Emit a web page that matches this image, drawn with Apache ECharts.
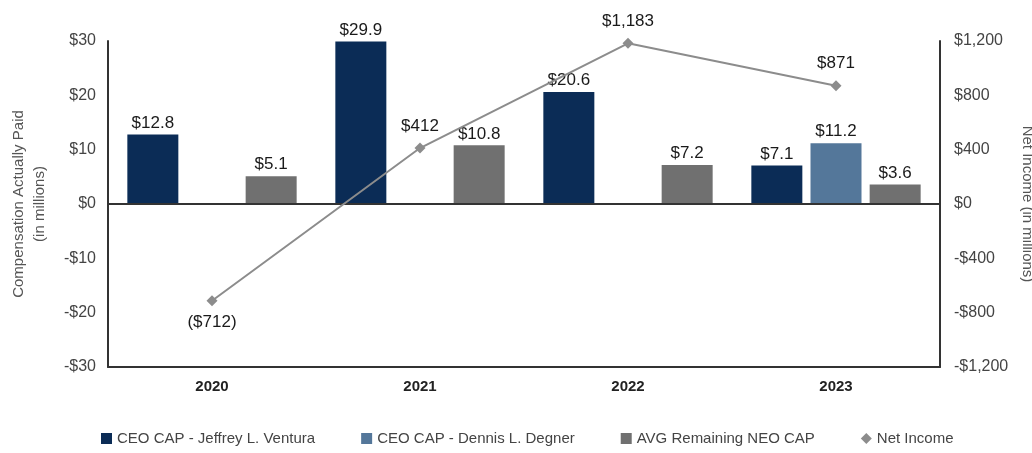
<!DOCTYPE html>
<html>
<head>
<meta charset="utf-8">
<script src="https://cdn.jsdelivr.net/npm/echarts@6/dist/echarts.min.js"></script>
<style>
  html, body { margin: 0; padding: 0; background: #fff; }
  #chart { width: 1032px; height: 453px; }
</style>
</head>
<body>
<div id="chart"></div>
<script>
var years = ["2020", "2021", "2022", "2023"];
var ventura = [12.8, 29.9, 20.6, 7.1];
var degner = [null, null, null, 11.2];
var neoAvg = [5.1, 10.8, 7.2, 3.6];
var netIncome = [-712, 412, 1183, 871];

var FONT = "'Liberation Sans Narrow', 'Liberation Sans', Arial, sans-serif";

function money(v) {
  var s = "$" + Math.abs(v).toLocaleString("en-US");
  return v < 0 ? "-" + s : s;
}

var chart = echarts.init(document.getElementById("chart"));
var barLabel = {
  show: true,
  position: "top",
  distance: 3,
  color: "#1a1a1a",
  fontSize: 17,
  fontFamily: FONT,
  formatter: function (p) { return "$" + p.value.toFixed(1); }
};

// negative net income is labelled below its point
var netData = netIncome.map(function (v) {
  return v < 0 ? { value: v, label: { position: "bottom", distance: 8 } } : v;
});

var option = {
  animation: false,
  textStyle: { fontFamily: FONT },
  grid: { left: 108, right: 92, top: 41, bottom: 86, outerBoundsMode: "none", containLabel: false },
  legend: {
    bottom: 2,
    left: 96,
    itemGap: 46,
    itemWidth: 11,
    itemHeight: 11,
    textStyle: { color: "#444", fontSize: 15, fontFamily: FONT },
    data: [
      { name: "CEO CAP - Jeffrey L. Ventura", icon: "rect" },
      { name: "CEO CAP - Dennis L. Degner", icon: "rect" },
      { name: "AVG Remaining NEO CAP", icon: "rect" },
      { name: "Net Income", icon: "diamond" }
    ]
  },
  xAxis: {
    type: "category",
    data: years,
    axisLine: { onZero: false, lineStyle: { color: "#333", width: 2 } },
    axisTick: { show: false },
    axisLabel: { color: "#222", fontSize: 15, fontWeight: "bold", margin: 12, fontFamily: FONT }
  },
  yAxis: [
    {
      type: "value",
      min: -30, max: 30, interval: 10,
      name: "Compensation Actually Paid\n(in millions)",
      nameLocation: "middle",
      nameRotate: 90,
      nameGap: 58,
      nameTextStyle: { color: "#555", fontSize: 15, lineHeight: 21, fontFamily: FONT },
      axisLine: { show: true, lineStyle: { color: "#333", width: 2 } },
      axisTick: { show: false },
      splitLine: { show: false },
      axisLabel: { color: "#444", fontSize: 16, margin: 12, fontFamily: FONT, formatter: money }
    },
    {
      type: "value",
      min: -1200, max: 1200, interval: 400,
      name: "Net Income (in millions)",
      nameLocation: "middle",
      nameRotate: -90,
      nameGap: 78,
      nameTextStyle: { color: "#555", fontSize: 15, fontFamily: FONT },
      axisLine: { show: true, lineStyle: { color: "#333", width: 2 } },
      axisTick: { show: false },
      splitLine: { show: false },
      axisLabel: { color: "#444", fontSize: 16, margin: 14, fontFamily: FONT, formatter: money }
    }
  ],
  series: [
    {
      name: "CEO CAP - Jeffrey L. Ventura",
      type: "bar",
      data: ventura,
      barWidth: 51,
      barGap: "16%",
      itemStyle: { color: "#0b2c56" },
      label: barLabel,
      markLine: {
        silent: true,
        symbol: "none",
        label: { show: false },
        lineStyle: { color: "#333", width: 2, type: "solid" },
        data: [{ yAxis: 0 }]
      }
    },
    {
      name: "CEO CAP - Dennis L. Degner",
      type: "bar",
      data: degner,
      barWidth: 51,
      itemStyle: { color: "#54779a" },
      label: barLabel
    },
    {
      name: "AVG Remaining NEO CAP",
      type: "bar",
      data: neoAvg,
      barWidth: 51,
      itemStyle: { color: "#707070" },
      label: barLabel
    },
    {
      name: "Net Income",
      type: "line",
      yAxisIndex: 1,
      data: netData,
      symbol: "diamond",
      symbolSize: 11,
      z: 5,
      lineStyle: { color: "#8c8c8c", width: 2 },
      itemStyle: { color: "#8c8c8c" },
      label: {
        show: true,
        position: "top",
        distance: 8,
        color: "#1a1a1a",
        fontSize: 17,
        fontFamily: FONT,
        formatter: function (p) {
          var s = "$" + Math.abs(p.value).toLocaleString("en-US");
          return p.value < 0 ? "(" + s + ")" : s;
        }
      }
    }
  ]
};
chart.setOption(option);
</script>
</body>
</html>
